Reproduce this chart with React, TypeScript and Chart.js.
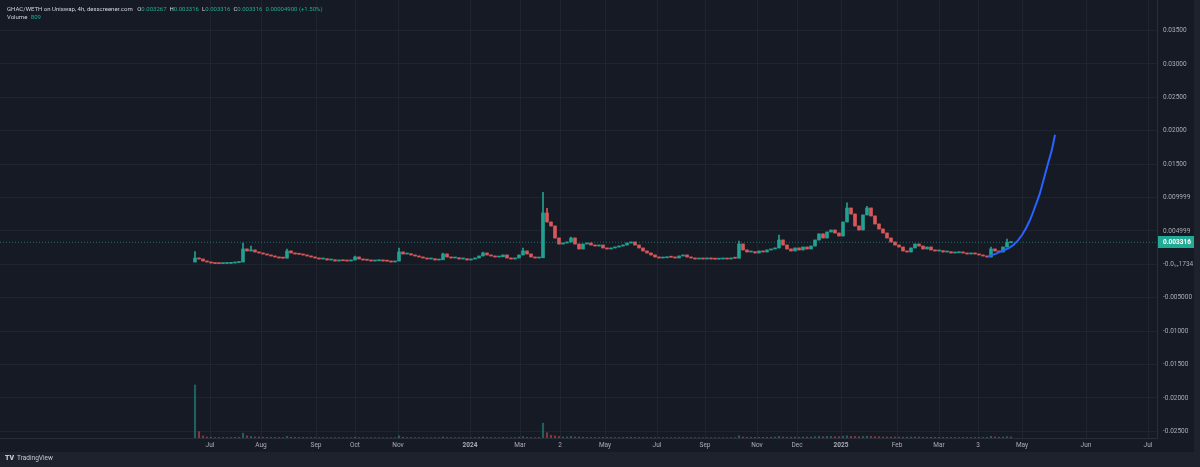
import React, { useEffect, useRef } from "react";
import { Chart, registerables } from "chart.js";

Chart.register(...registerables);

// ---- DATA ----
const firstOpen = 0.00036;
const closes = [
  0.00096, 0.00081, 0.00051, 0.00036, 0.00021, 0.00013, 0.00012, 0.00014, 0.00016, 0.00021,
  0.00028, 0.00036, 0.00231, 0.00201, 0.00216, 0.00186, 0.00171, 0.00156, 0.00141, 0.00126,
  0.00111, 0.00096, 0.00094, 0.00201, 0.00171, 0.00156, 0.00152, 0.00141, 0.00126, 0.00111,
  0.00096, 0.00081, 0.00084, 0.00066, 0.00069, 0.00051, 0.00066, 0.00054, 0.00051, 0.00066,
  0.00111, 0.00081, 0.00066, 0.00063, 0.00051, 0.00054, 0.00066, 0.00051, 0.00049, 0.00036,
  0.00051, 0.00186, 0.00156, 0.00159, 0.00141, 0.00126, 0.00111, 0.00096, 0.00081, 0.00084,
  0.00066, 0.00069, 0.00156, 0.00111, 0.00096, 0.00099, 0.00081, 0.00084, 0.00066, 0.00081,
  0.00096, 0.00126, 0.00171, 0.00141, 0.00126, 0.00111, 0.00114, 0.00141, 0.00096, 0.00081,
  0.00096, 0.00141, 0.00201, 0.00156, 0.00111, 0.00096, 0.00099, 0.0077, 0.00635, 0.00575,
  0.00395, 0.00305, 0.0032, 0.00335, 0.00395, 0.00305, 0.00231, 0.00305, 0.0032, 0.0029,
  0.00275, 0.0029, 0.00246, 0.00231, 0.00246, 0.0026, 0.00275, 0.0029, 0.0032, 0.00335,
  0.0029, 0.00246, 0.00201, 0.00171, 0.00141, 0.00111, 0.00096, 0.00099, 0.00111, 0.00108,
  0.00096, 0.00126, 0.00141, 0.00111, 0.00096, 0.00081, 0.00084, 0.00081, 0.00096, 0.00081,
  0.00079, 0.00081, 0.00084, 0.00081, 0.00096, 0.00093, 0.00305, 0.00216, 0.00186, 0.00189,
  0.00171, 0.00201, 0.00186, 0.00216, 0.00231, 0.00246, 0.00365, 0.0029, 0.00231, 0.00201,
  0.00246, 0.00216, 0.0026, 0.00231, 0.00275, 0.00365, 0.00456, 0.00395, 0.00485, 0.00515,
  0.0047, 0.00425, 0.00635, 0.00844, 0.00754, 0.00575, 0.00515, 0.0074, 0.00844, 0.00725,
  0.00605, 0.0053, 0.0047, 0.00395, 0.00335, 0.0029, 0.0026, 0.00201, 0.00186, 0.00246,
  0.00305, 0.00275, 0.00231, 0.0026, 0.00216, 0.00201, 0.00204, 0.00186, 0.00189, 0.00171,
  0.00174, 0.00186, 0.00171, 0.00156, 0.00171, 0.00156, 0.00141, 0.00126, 0.00111, 0.00231,
  0.00201, 0.00186, 0.0026, 0.003267, 0.003316,
];
// [candle index, high]
const spikeHighs: [number, number][] = [
  [0, 0.0019], [12, 0.0032], [14, 0.00275], [23, 0.0023], [40, 0.00126], [51, 0.00246],
  [62, 0.00171], [72, 0.00186], [82, 0.00246], [87, 0.0108], [88, 0.0084], [94, 0.0041],
  [136, 0.0035], [146, 0.0044], [163, 0.0092], [168, 0.0087], [199, 0.0026], [203, 0.0038],
];
const volumes = [
  100, 12, 4, 2, 1.5, 1, 1, 1, 0.8, 1,
  1.2, 1.5, 9, 4, 3, 2, 2, 1.5, 1.2, 1,
  1, 1, 0.8, 3, 1.5, 1.2, 1, 1, 0.8, 0.8,
  0.7, 0.6, 0.8, 0.6, 0.5, 0.6, 0.7, 0.5, 0.5, 0.6,
  1.5, 0.8, 0.6, 0.5, 0.5, 0.6, 0.5, 0.5, 0.4, 0.5,
  0.6, 4, 1.5, 1, 0.8, 0.7, 0.6, 0.6, 0.5, 0.5,
  0.5, 0.6, 2, 1, 0.7, 0.6, 0.5, 0.6, 0.5, 0.6,
  0.8, 1.2, 2, 1, 0.8, 0.7, 0.6, 1.2, 0.8, 0.6,
  0.8, 1.5, 2.5, 1.2, 0.8, 0.7, 1, 28, 10, 5,
  4, 3, 2, 2, 3, 2, 2, 1.5, 1.2, 1,
  1, 1, 1.2, 1, 1, 0.8, 0.8, 1, 1.2, 1.5,
  1, 1, 0.8, 0.8, 0.7, 0.7, 0.6, 0.6, 0.7, 0.6,
  0.6, 0.8, 0.8, 0.6, 0.6, 0.5, 0.5, 0.5, 0.6, 0.5,
  0.5, 0.5, 0.5, 0.5, 0.6, 0.6, 4, 2, 1.5, 1.5,
  1.2, 1.5, 1.2, 1.5, 1.5, 1.8, 3, 2, 1.5, 1.5,
  1.8, 1.5, 2, 1.8, 2, 2.5, 3, 2.5, 3, 3,
  2.5, 2.5, 3.5, 4, 3, 3, 2.5, 3, 3.5, 3,
  2.5, 2.5, 2, 2, 2, 1.8, 1.8, 1.5, 1.5, 1.8,
  2, 1.8, 1.5, 1.5, 1.5, 1.2, 1.2, 1.2, 1.2, 1,
  1, 1, 1, 1, 1, 1, 1, 1, 1.2, 3,
  2, 1.5, 2, 2.5, 2,
];
// projection curve: [bar position, price]
const curveX = [198.3, 201.25, 204.6, 206.75, 208.75, 210, 211.25, 212.25, 213.3, 214.25, 215];
const curveY = [0.00115, 0.00186, 0.0029, 0.0044, 0.00665, 0.0086, 0.0107, 0.0129, 0.0152, 0.01725, 0.0194];

const lastPrice = 0.003316;
const xMin = -48.75;
const xMax = 240.5;
const xTickPos = [3.75, 16.5, 30.25, 40, 50.75, 68.75, 81.25, 91.25, 102.5, 115.5, 127.5, 140.5, 150.5, 161.5, 175.5, 186, 195.75, 206.75, 222.75, 238.25];
const xTickLabels = ["Jul", "Aug", "Sep", "Oct", "Nov", "2024", "Mar", "2", "May", "Jul", "Sep", "Nov", "Dec", "2025", "Feb", "Mar", "3", "May", "Jun", "Jul"];
const yMin = -0.02599;
const yMax = 0.03958;
const yTickVals = [0.035, 0.03, 0.025, 0.02, 0.015, 0.009999, 0.004999, 0, -0.005, -0.01, -0.015, -0.02, -0.025];
const yTickLabels = ["0.03500", "0.03000", "0.02500", "0.02000", "0.01500", "0.009999", "0.004999", "-0.0\u2081\u20871734", "-0.005000", "-0.01000", "-0.01500", "-0.02000", "-0.02500"];
const volMax = 826;

const UP = "#23a08f";
const DOWN = "#d8575a";
const BG = "#161a25";
const FRAME = "#1e222d";
const GRID = "rgba(42,46,57,0.55)";
const TEXT = "#a9acb5";

export default function App() {
  const ref = useRef<HTMLCanvasElement | null>(null);

  useEffect(() => {
    const canvas = ref.current;
    if (!canvas) return;
    const opens = closes.map((c, i) => (i === 0 ? firstOpen : closes[i - 1]));
    const highExtra: Record<number, number> = {};
    spikeHighs.forEach(([i, h]) => (highExtra[i] = h));
    const isUp = closes.map((c, i) => c >= opens[i]);
    const colors = isUp.map((u) => (u ? UP : DOWN));
    const volColors = isUp.map((u) => (u ? "rgba(38,166,154,0.5)" : "rgba(239,83,80,0.5)"));

    const bodies = closes.map((c, i) => ({ x: i, y: [Math.min(c, opens[i]), Math.max(c, opens[i])] }));
    const wicks = closes.map((c, i) => ({
      x: i,
      y: [Math.min(c, opens[i]), Math.max(c, opens[i], highExtra[i] ?? 0)],
    }));
    const vols = volumes.map((v, i) => ({ x: i, y: v }));
    const curve = curveX.map((x, i) => ({ x, y: curveY[i] }));

    const bgPlugin = {
      id: "bg",
      beforeDraw(chart: any) {
        const { ctx, width, height } = chart;
        ctx.save();
        ctx.fillStyle = FRAME;
        ctx.fillRect(0, 0, width, height);
        ctx.fillStyle = BG;
        ctx.fillRect(0, 0, 1194, 452);
        ctx.restore();
      },
      afterDraw(chart: any) {
        const { ctx } = chart;
        const y = chart.scales.y.getPixelForValue(lastPrice);
        const left = chart.chartArea.right + 1;
        ctx.save();
        ctx.fillStyle = "#22ab94";
        ctx.fillRect(left, Math.round(y) - 6, 36, 12);
        ctx.fillStyle = "#ffffff";
        ctx.font = "bold 6.5px Roboto, sans-serif";
        ctx.textBaseline = "middle";
        ctx.textAlign = "left";
        ctx.fillText(lastPrice.toFixed(6), left + 5, Math.round(y));
        ctx.restore();
      },
    };

    const chart = new Chart(canvas, {
      type: "bar",
      data: {
        datasets: [
          {
            type: "line",
            data: curve,
            borderColor: "#2962ff",
            borderWidth: 2,
            pointRadius: 0,
            cubicInterpolationMode: "monotone",
            yAxisID: "y",
            order: 1,
          } as any,
          {
            type: "line",
            data: [{ x: xMin, y: lastPrice }, { x: xMax, y: lastPrice }],
            borderColor: "rgba(38,166,154,0.6)",
            borderWidth: 1,
            borderDash: [1, 2],
            pointRadius: 0,
            yAxisID: "y",
            order: 2,
          } as any,
          {
            type: "bar",
            data: bodies,
            backgroundColor: colors,
            barThickness: 3,
            minBarLength: 1,
            grouped: false,
            yAxisID: "y",
            order: 3,
          } as any,
          {
            type: "bar",
            data: wicks,
            backgroundColor: colors,
            barThickness: 1,
            grouped: false,
            yAxisID: "y",
            order: 4,
          } as any,
          {
            type: "bar",
            data: vols,
            backgroundColor: volColors,
            barThickness: 1.5,
            grouped: false,
            yAxisID: "yVol",
            order: 5,
          } as any,
        ],
      },
      options: {
        responsive: false,
        animation: false,
        layout: { padding: { top: 0, left: 0, right: 6, bottom: 15 } },
        plugins: { legend: { display: false }, tooltip: { enabled: false } },
        scales: {
          x: {
            type: "linear",
            min: xMin,
            max: xMax,
            offset: false,
            grid: { color: GRID, drawTicks: false, offset: false },
            border: { display: true, color: "#2a2e39" },
            afterBuildTicks: (s: any) => {
              s.ticks = xTickPos.map((v) => ({ value: v }));
            },
            afterFit: (s: any) => {
              s.height = 14;
              s.paddingLeft = 0;
              s.paddingRight = 0;
            },
            ticks: {
              color: TEXT,
              padding: 3,
              maxRotation: 0,
              autoSkip: false,
              font: (ctx: any) => ({
                size: 6.5,
                family: "Roboto, sans-serif",
                weight: /^\d{4}$/.test(xTickLabels[ctx.index] || "") ? "bold" : "normal",
              }),
              callback: (_v: any, i: number) => xTickLabels[i],
            },
          },
          y: {
            type: "linear",
            position: "right",
            min: yMin,
            max: yMax,
            grid: { color: GRID, drawTicks: false },
            border: { display: true, color: "#2a2e39" },
            afterBuildTicks: (s: any) => {
              s.ticks = yTickVals.map((v) => ({ value: v }));
            },
            afterFit: (s: any) => {
              s.width = 37;
              s.paddingTop = 0;
              s.paddingBottom = 0;
            },
            ticks: {
              color: TEXT,
              padding: 6,
              autoSkip: false,
              font: { size: 6.5, family: "Roboto, sans-serif" },
              callback: (_v: any, i: number) => yTickLabels[i],
            },
          },
          yVol: {
            type: "linear",
            display: false,
            min: 0,
            max: volMax,
          },
        },
      } as any,
      plugins: [bgPlugin],
    });
    return () => chart.destroy();
  }, []);

  const font = 'Roboto, "Noto Sans", sans-serif';
  const val = { color: "#22ab94" };
  return (
    <div style={{ position: "fixed", left: 0, top: 0, width: 1200, height: 467, overflow: "hidden", background: BG }}>
      <canvas ref={ref} width={1200} height={467} style={{ display: "block", width: 1200, height: 467 }} />
      <div style={{ position: "absolute", left: 7, top: 5, fontFamily: font, fontSize: 6, color: "#d1d4dc", whiteSpace: "nowrap", lineHeight: "8px" }}>
        <div>
          GHAC/WETH on Uniswap, 4h, dexscreener.com{"  "}
          <span style={{ marginLeft: 3 }}>O</span><span style={val}>0.003267</span>
          <span style={{ marginLeft: 3 }}>H</span><span style={val}>0.003316</span>
          <span style={{ marginLeft: 3 }}>L</span><span style={val}>0.003316</span>
          <span style={{ marginLeft: 3 }}>C</span><span style={val}>0.003316</span>
          <span style={{ ...val, marginLeft: 3 }}>0.00004900 (+1.50%)</span>
        </div>
        <div>
          Volume <span style={{ ...val, marginLeft: 2 }}>809</span>
        </div>
      </div>
      <div style={{ position: "absolute", left: 5, top: 454, fontFamily: font, fontSize: 6.5, color: "#c8cad0", whiteSpace: "nowrap", lineHeight: "9px" }}>
        <span style={{ fontWeight: 900, fontSize: 7, marginRight: 3 }}>TV</span>TradingView
      </div>
    </div>
  );
}
